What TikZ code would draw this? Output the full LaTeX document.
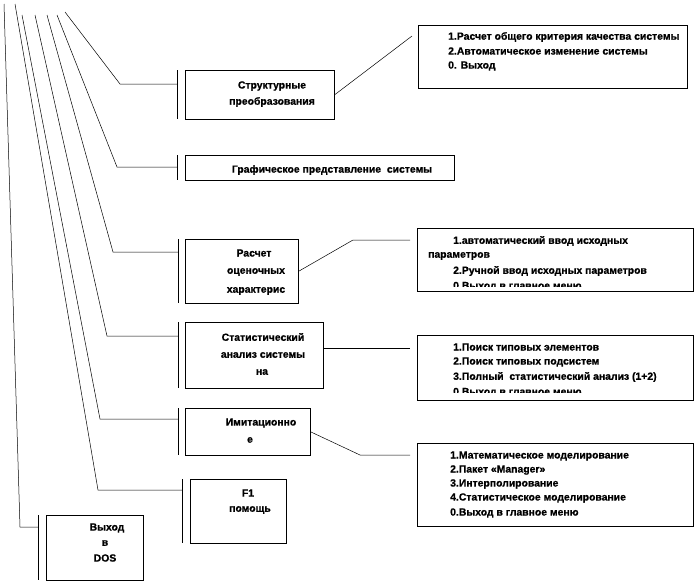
\documentclass[tikz,border=0pt]{standalone}
\usepackage{fontspec}
\setmainfont[BoldFeatures={FakeBold=0.8}]{Liberation Sans}
\begin{document}
\begin{tikzpicture}[x=1pt,y=-1pt,
  box/.style={draw, line width=0.6pt, inner sep=0pt, anchor=north west},
  txt/.style={font=\bfseries\fontsize{10.4}{12}\selectfont, inner sep=0pt},
  ltxt/.style={txt, anchor=west},
  wire/.style={line width=0.5pt},
  barline/.style={line width=0.6pt}]
\useasboundingbox[fill=white] (0,0) rectangle (697,582);

% ---- left boxes ----
\node[box, minimum width=149pt, minimum height=49pt] (sp) at (185,70) {};
\node[box, minimum width=269pt, minimum height=25pt] (gp) at (185,155) {};
\node[box, minimum width=113pt, minimum height=64pt] (ro) at (185,239) {};
\node[box, minimum width=138pt, minimum height=66pt] (sa) at (185,322) {};
\node[box, minimum width=125pt, minimum height=47pt] (im) at (185,408) {};
\node[box, minimum width=96pt, minimum height=64pt] (fp) at (190,479) {};
\node[box, minimum width=97pt, minimum height=65pt] (vd) at (46,515) {};

% ---- right boxes ----
\node[box, minimum width=269pt, minimum height=63pt] (m1) at (418,25) {};
\node[box, minimum width=276pt, minimum height=63pt] (m2) at (417,228) {};
\node[box, minimum width=276pt, minimum height=65pt] (m3) at (417,335) {};
\node[box, minimum width=276pt, minimum height=83pt] (m4) at (417,443) {};

% ---- texts of the left boxes ----
\node[txt] (sp1) at (272,86) {Структурные};
\node[txt] (sp2) at (272,102) {преобразования};
\node[txt] (gp1) at (332,170) {Графическое представление\ \ системы};
\node[txt] (ro1) at (254,253) {Расчет};
\node[txt] (ro2) at (256,272) {оценочных};
\node[txt] (ro3) at (256,291) {характерис};
\node[txt] (sa1) at (263,337) {Статистический};
\node[txt] (sa2) at (263,355) {анализ системы};
\node[txt] (sa3) at (262,372) {на};
\node[txt] (im1) at (261,423) {Имитационно};
\node[txt] (im2) at (250,440) {е};
\node[txt] (fp1) at (248,493) {F1};
\node[txt] (fp2) at (250,510) {помощь};
\node[txt] (vd1) at (107,528) {Выход};
\node[txt] (vd2) at (105,543) {в};
\node[txt] (vd3) at (105,558) {DOS};

% ---- texts of the right boxes ----
\node[ltxt] (a1) at (448,37) {1.Расчет общего критерия качества системы};
\node[ltxt] (a2) at (448,51) {2.Автоматическое изменение системы};
\node[ltxt] (a3) at (448,66) {0. Выход};

\begin{scope}
\clip (417,228) rectangle (693,286.5);
\node[ltxt] (b1) at (453,241) {1.автоматический ввод исходных};
\node[ltxt] (b2) at (428,256) {параметров};
\node[ltxt] (b3) at (453,271) {2.Ручной ввод исходных параметров};
\node[ltxt] (b4) at (453,286.5) {0.Выход в главное меню};
\end{scope}

\begin{scope}
\clip (417,335) rectangle (693,392.5);
\node[ltxt] (c1) at (453,347) {1.Поиск типовых элементов};
\node[ltxt] (c2) at (453,362) {2.Поиск типовых подсистем};
\node[ltxt] (c3) at (453,377) {3.Полный\ \ статистический анализ (1+2)};
\node[ltxt] (c4) at (453,392.5) {0.Выход в главное меню};
\end{scope}

\node[ltxt] (d1) at (450,456) {1.Математическое моделирование};
\node[ltxt] (d2) at (450,470) {2.Пакет «Manager»};
\node[ltxt] (d3) at (450,484) {3.Интерполирование};
\node[ltxt] (d4) at (450,498) {4.Статистическое моделирование};
\node[ltxt] (d5) at (450,513) {0.Выход в главное меню};

% ---- bars left of the boxes ----
\coordinate (spt) at (177,70);  \coordinate (spb) at (177,119);
\coordinate (gpt) at (177,155); \coordinate (gpb) at (177,180);
\coordinate (rot) at (178,239); \coordinate (rob) at (178,303);
\coordinate (sat) at (178,322); \coordinate (sab) at (178,388);
\coordinate (imt) at (178,408); \coordinate (imb) at (178,455);
\coordinate (fpt) at (182,479); \coordinate (fpb) at (182,543);
\coordinate (vdt) at (38,515);  \coordinate (vdb) at (38,580);
\foreach \n in {sp,gp,ro,sa,im,fp,vd} \draw[barline] (\n t) -- (\n b);

% ---- fan of lines from the top ----
\coordinate (s0) at (65,12);  \coordinate (e0) at (120,84);
\coordinate (s1) at (57,15);  \coordinate (e1) at (117,167);
\coordinate (s2) at (47,15);  \coordinate (e2) at (113,252);
\coordinate (s3) at (35,15);  \coordinate (e3) at (107,336);
\coordinate (s4) at (22,15);  \coordinate (e4) at (100,419);
\coordinate (s5) at (15,4);   \coordinate (e5) at (98,490);
\coordinate (s6) at (4,4);    \coordinate (e6) at (20,527);
\draw[wire] (s0) -- (e0) -- (e0 -| spt);
\draw[wire] (s1) -- (e1) -- (e1 -| gpt);
\draw[wire] (s2) -- (e2) -- (e2 -| rot);
\draw[wire] (s3) -- (e3) -- (e3 -| sat);
\draw[wire] (s4) -- (e4) -- (e4 -| imt);
\draw[wire] (s5) -- (e5) -- (e5 -| fpt);
\draw[wire] (s6) -- (e6) -- (e6 -| vdt);

% ---- connectors to the right boxes ----
\coordinate (k1) at (412,36);
\draw[wire] (sp.east) -- (k1);
\coordinate (k2a) at (353,240); \coordinate (k2b) at (410,240);
\draw[wire] (ro.east) -- (k2a) -- (k2b);
\coordinate (k3) at (410,348);
\draw[wire] (sa.east |- k3) -- (k3);
\coordinate (k4a) at (360,455); \coordinate (k4b) at (410,455);
\draw[wire] (im.east) -- (k4a) -- (k4b);
\end{tikzpicture}
\end{document}
